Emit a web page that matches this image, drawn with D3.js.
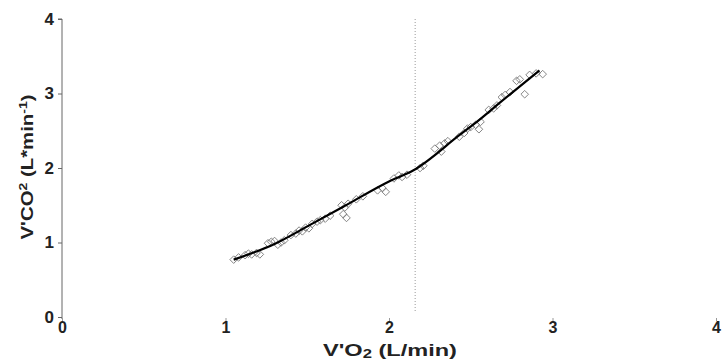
<!DOCTYPE html>
<html><head><meta charset="utf-8">
<script src="https://cdn.jsdelivr.net/npm/d3@7"></script>
<style>body{margin:0;background:#fff}svg{display:block}</style>
</head><body>
<svg id="c" width="723" height="360"></svg>
<script>
const xTicks = [0, 1, 2, 3, 4];
const yTicks = [0, 1, 2, 3, 4];
const obsX = [1.05,1.08,1.12,1.14,1.16,1.19,1.21,1.26,1.28,1.30,1.32,1.34,1.36,1.40,1.43,1.45,1.47,1.49,1.51,1.53,1.56,1.58,1.61,1.64,1.71,1.73,1.75,1.72,1.74,1.80,1.84,1.93,1.96,1.98,2.03,2.06,2.08,2.11,2.19,2.21,2.28,2.31,2.34,2.36,2.32,2.43,2.46,2.48,2.50,2.53,2.56,2.55,2.61,2.64,2.66,2.69,2.71,2.74,2.78,2.80,2.83,2.86,2.90,2.94];
const obsY = [0.77,0.80,0.83,0.85,0.84,0.86,0.84,0.99,1.01,1.02,0.97,1.00,1.03,1.10,1.12,1.16,1.15,1.20,1.19,1.25,1.28,1.30,1.32,1.36,1.50,1.47,1.52,1.38,1.33,1.58,1.62,1.70,1.73,1.68,1.86,1.90,1.88,1.91,2.00,2.03,2.26,2.30,2.33,2.36,2.22,2.42,2.47,2.53,2.55,2.58,2.62,2.52,2.78,2.80,2.84,2.95,2.98,3.02,3.17,3.19,2.99,3.25,3.27,3.26];
const fitX = [1.05,1.30,1.52,1.72,2.00,2.15,2.43,2.56,2.68,2.92];
const fitY = [0.77,0.98,1.24,1.48,1.82,1.97,2.44,2.66,2.88,3.31];
const threshold = 2.16;

const svg = d3.select('#c');
const x = d3.scaleLinear().domain([0, 4]).range([62, 716]);
const y = d3.scaleLinear().domain([0, 4]).range([317, 19]);
const font = '"Liberation Sans", Arial, sans-serif';

// y axis
const ya = svg.append('g').attr('transform', 'translate(62,0)')
  .call(d3.axisLeft(y).tickValues(yTicks).tickSize(4).tickPadding(4).tickFormat(d3.format('d')));
ya.select('.domain').attr('stroke', '#666').attr('d', `M-4,${y(4)}H0V${y(0)+2}`);
ya.selectAll('.tick line').attr('stroke', '#666');
ya.selectAll('.tick text').attr('font-family', font).attr('font-weight', 'bold')
  .attr('font-size', 17).attr('fill', '#222');

// x axis (ticks only)
const xa = svg.append('g').attr('transform', 'translate(0,318)')
  .call(d3.axisBottom(x).tickValues(xTicks).tickSize(3).tickPadding(1).tickFormat(d3.format('d')));
xa.select('.domain').remove();
xa.selectAll('.tick line').attr('stroke', '#999');
xa.selectAll('.tick text').attr('font-family', font).attr('font-weight', 'bold')
  .attr('font-size', 16).attr('fill', '#222');

// threshold dotted line
svg.append('line').attr('x1', x(threshold)).attr('x2', x(threshold))
  .attr('y1', y(4)).attr('y2', y(0.06))
  .attr('stroke', '#999').attr('stroke-width', 1).attr('stroke-dasharray', '1,2');

// observations (diamonds)
const pts = obsX.map((v, i) => [v, obsY[i]]);
svg.append('g').selectAll('path').data(pts).join('path')
  .attr('d', d => { const cx = x(d[0]), cy = y(d[1]), r = 3.8;
    return `M${cx},${cy - r}L${cx + r},${cy}L${cx},${cy + r}L${cx - r},${cy}Z`; })
  .attr('fill', 'none').attr('stroke', '#777').attr('stroke-width', 0.9);

// fitted line
const fit = fitX.map((v, i) => [v, fitY[i]]);
svg.append('path').datum(fit)
  .attr('d', d3.line().x(d => x(d[0])).y(d => y(d[1])).curve(d3.curveMonotoneX))
  .attr('fill', 'none').attr('stroke', '#000').attr('stroke-width', 2.2);

// axis titles
const xt = svg.append('text').attr('x', 390).attr('y', 356).attr('text-anchor', 'middle')
  .attr('font-family', font).attr('font-weight', 'bold').attr('font-size', 17).attr('fill', '#222')
  .attr('textLength', 134).attr('lengthAdjust', 'spacingAndGlyphs');
xt.append('tspan').text("V'O");
xt.append('tspan').attr('font-size', 12).attr('dy', 2).text('2');
xt.append('tspan').attr('dy', -2).text(' (L/min)');

const yt = svg.append('text').attr('transform', 'translate(33,167) rotate(-90)').attr('text-anchor', 'middle')
  .attr('font-family', font).attr('font-weight', 'bold').attr('font-size', 16).attr('fill', '#222')
  .attr('textLength', 145).attr('lengthAdjust', 'spacingAndGlyphs');
yt.append('tspan').text("V'CO");
yt.append('tspan').attr('font-size', 11).attr('dy', -6).text('2');
yt.append('tspan').attr('dy', 6).text(' (L*min');
yt.append('tspan').attr('font-size', 11).attr('dy', -6).text('-1');
yt.append('tspan').attr('dy', 6).text(')');
</script>
</body></html>
